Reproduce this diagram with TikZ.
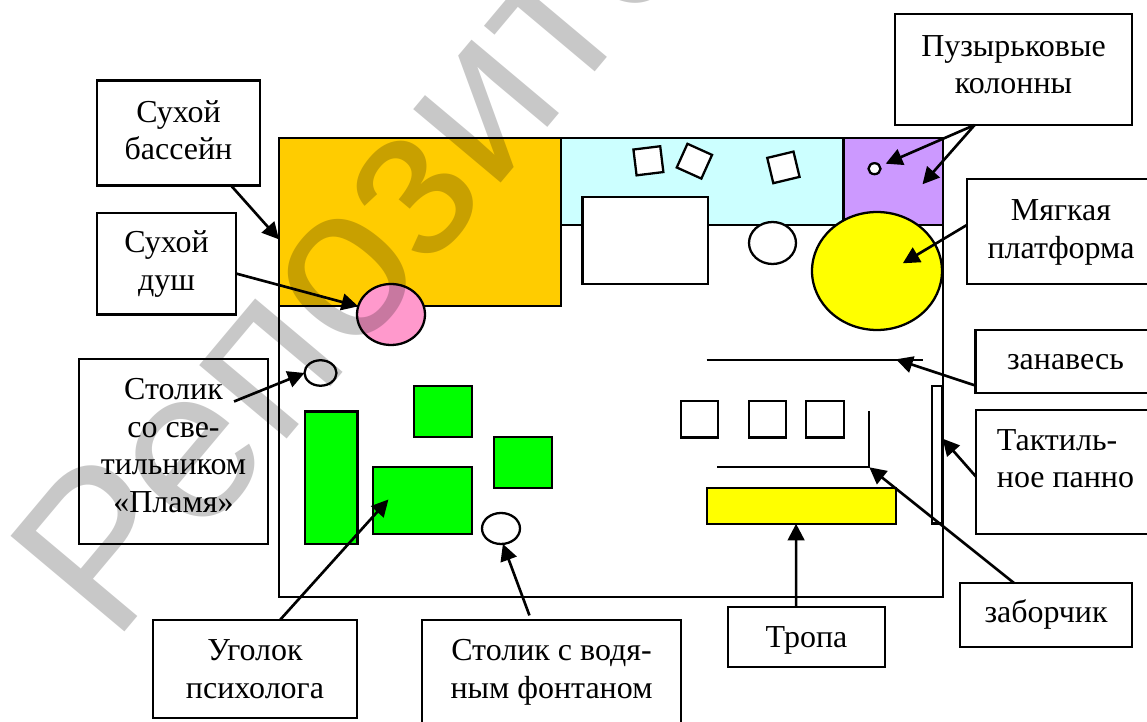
\documentclass[tikz,border=0pt]{standalone}
\usepackage{fontspec}
\setmainfont{Liberation Serif}
\newfontfamily\wmfont{Liberation Sans}
\usetikzlibrary{arrows.meta,shapes.geometric}
\definecolor{poolcol}{HTML}{FFCC00}
\definecolor{wallcol}{HTML}{CCFFFF}
\definecolor{bubblecol}{HTML}{CC99FF}
\definecolor{pinkcol}{HTML}{FF99CC}
\definecolor{softcol}{HTML}{FFFF00}
\definecolor{cornercol}{HTML}{00FF00}
\definecolor{wmcol}{HTML}{C8C8C8}
\tikzset{
    lbl/.style={draw,line width=1.3pt,align=center,font=\fontsize{18.2}{21.3}\selectfont,inner sep=0pt,outer sep=0pt},
    rect/.style={draw,line width=1.3pt,rectangle,inner sep=0pt,outer sep=0pt},
    oval/.style={draw,line width=1.3pt,ellipse,inner sep=0pt,outer sep=0pt},
    arr/.style={line width=1.5pt,-{Triangle[length=9.5pt,width=9.5pt]}}
}
\begin{document}
\begin{tikzpicture}[x=0.02cm,y=-0.02cm]
    \path[use as bounding box,clip] (0,0) rectangle (1147,722);
    % room and zones
    \node[rect,minimum width=13.28cm,minimum height=9.18cm] (room) at (611,367.5) {};
    \node[rect,fill=wallcol,minimum width=5.65cm,minimum height=1.74cm] (wall) at (702.25,181.5) {};
    \node[rect,fill=bubblecol,minimum width=1.99cm,minimum height=1.74cm] (violet) at (893.25,181.5) {};
    \node[rect,fill=poolcol,minimum width=5.64cm,minimum height=3.36cm] (pool) at (420,222) {};
    \node[rect,fill=white,minimum width=2.51cm,minimum height=1.74cm] (bed) at (645.3,240.5) {};
    \node[rect,fill=white,minimum width=.54cm,minimum height=.52cm,rotate=7] (cubea) at (648.4,160.8) {};
    \node[rect,fill=white,minimum width=.54cm,minimum height=.52cm,rotate=-24.3] (cubeb) at (694.4,161.2) {};
    \node[rect,fill=white,minimum width=.54cm,minimum height=.52cm,rotate=13.5] (cubec) at (783.4,167.4) {};
    \node[oval,fill=white,minimum width=.94cm,minimum height=.84cm] (roundtable) at (772.5,243) {};
    \node[oval,fill=softcol,minimum width=2.6cm,minimum height=2.36cm] (soft) at (877,271) {};
    \node[oval,fill=white,minimum width=.24cm,minimum height=.22cm] (bubble) at (874.5,168.7) {};
    \node[oval,fill=pinkcol,minimum width=1.36cm,minimum height=1.22cm] (shower) at (391,314.5) {};
    \node[oval,fill=white,minimum width=.64cm,minimum height=.51cm] (lamp) at (320.5,373) {};
    \node[oval,fill=white,minimum width=.76cm,minimum height=.62cm] (fountain) at (501,528.5) {};
    % psychologist corner
    \node[rect,fill=cornercol,minimum width=1.05cm,minimum height=2.65cm] (greena) at (331.3,477.8) {};
    \node[rect,fill=cornercol,minimum width=1.16cm,minimum height=1.02cm] (greenb) at (443,411.5) {};
    \node[rect,fill=cornercol,minimum width=1.16cm,minimum height=1.02cm] (greenc) at (523,462.5) {};
    \node[rect,fill=cornercol,minimum width=1.98cm,minimum height=1.34cm] (greend) at (422.5,500.5) {};
    % right part of the room
    \node[rect,minimum width=.75cm,minimum height=.73cm] (seata) at (699.5,419.2) {};
    \node[rect,minimum width=.75cm,minimum height=.73cm] (seatb) at (767.5,419.2) {};
    \node[rect,minimum width=.75cm,minimum height=.73cm] (seatc) at (825,419.2) {};
    \node[rect,fill=softcol,minimum width=3.77cm,minimum height=.71cm] (path) at (801.5,506) {};
    \node[rect,fill=white,minimum width=.21cm,minimum height=2.75cm] (panel) at (937.3,454.8) {};
    \coordinate (curtainl) at (706.7,360.3);
    \coordinate (curtainr) at (922.7,360.3);
    \coordinate (fencel) at (717.3,467.3);
    \coordinate (fencec) at (869.3,467.3);
    \coordinate (fencet) at (869.3,411);
    \draw[line width=1.3pt] (curtainl) -- (curtainr);
    \draw[line width=1.3pt] (fencel) -- (fencec) -- (fencet);
    % labels
    \node[lbl,minimum width=3.26cm,minimum height=2.1cm] (bassein) at (178.5,133) {Сухой\\бассейн\\[-17.9pt]};
    \node[lbl,minimum width=2.78cm,minimum height=2.03cm] (dush) at (166.5,263.75) {Сухой\\душ\\[-17.9pt]};
    \node[lbl,minimum width=3.78cm,minimum height=3.7cm] (stolik) at (173.5,451.5) {Столик\\со све-\\тильником\\«Пламя»\\[-14.5pt]};
    \node[lbl,minimum width=4.08cm,minimum height=1.96cm] (ugolok) at (255,669) {Уголок\\психолога};
    \node[lbl,minimum width=5.18cm,minimum height=2.12cm] (vodya) at (551.5,673) {Столик с водя-\\ным фонтаном\\[-16.8pt]};
    \node[lbl,align=none,text depth=0pt,minimum width=3.14cm,minimum height=1.2cm] (tropa) at (806.5,637) {Тропа};
    \node[lbl,align=none,text height=9pt,text depth=0pt,minimum width=3.44cm,minimum height=1.28cm] (zabor) at (1046,615) {заборчик};
    \node[lbl,align=left,minimum width=3.58cm,minimum height=2.48cm] (taktil) at (1065.5,472) {Тактиль-\\ное панно\\[-6pt]};
    \node[lbl,align=none,text height=9.6pt,text depth=0pt,minimum width=3.6cm,minimum height=1.26cm] (zanaves) at (1065.5,361.5) {занавесь};
    \node[lbl,minimum width=3.76cm,minimum height=2.1cm] (myagk) at (1061,231.5) {Мягкая\\платформа\\[-18.5pt]};
    \node[lbl,minimum width=4.74cm,minimum height=2.22cm] (puzyr) at (1013.5,69.5) {Пузырьковые\\колонны\\[-15.7pt]};
    % arrows
    \coordinate (poolpt) at (279,239.4);
    \coordinate (stolikpt) at (234,401.5);
    \coordinate (greenpt) at (388.4,499.5);
    \coordinate (softpt) at (902.8,263.3);
    \coordinate (bubblept) at (885.7,163.7);
    \coordinate (violetpt) at (922.5,184.3);
    \coordinate (curtainpt) at (896,359.3);
    \draw[arr] (bassein.-45) -- (poolpt);
    \draw[arr] (dush.-8.4) -- (shower.166);
    \draw[arr] (stolikpt) -- (lamp.west);
    \draw[arr] (ugolok.63.9) -- (greenpt);
    \draw[arr,shorten <=2.8pt] (vodya.111.5) -- (fountain.-83);
    \draw[arr] (tropa.109.3) -- (path.253);
    \draw[arr] (zabor.135.6) -- (fencec);
    \draw[arr] (taktil.183) -- (panel.72);
    \draw[arr] (zanaves.195) -- (curtainpt);
    \draw[arr] (myagk.176) -- (softpt);
    \draw[arr] (puzyr.235.7) -- (bubblept);
    \draw[arr] (puzyr.235.7) -- (violetpt);
    % watermark
    \node[blend mode=multiply,text=wmcol,font=\wmfont\fontsize{123}{123}\selectfont,rotate=50,anchor=base west,inner sep=0pt] (wmark) at (113,646) {Репозито};
\end{tikzpicture}
\end{document}
